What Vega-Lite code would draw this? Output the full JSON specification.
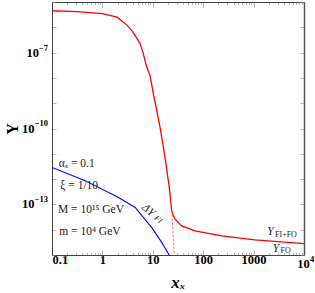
{
  "$schema": "https://vega.github.io/schema/vega-lite/v6.json",
  "width": 252,
  "height": 253,
  "autosize": {"type": "none"},
  "padding": {"left": 52, "top": 2, "right": 11, "bottom": 38},
  "config": {"view": {"stroke": null}, "font": "Liberation Serif"},
  "datasets": {
    "red": [
      {"x": 0.1, "y": 4.52e-6}, {"x": 0.316, "y": 4.2e-6}, {"x": 1, "y": 3.47e-6},
      {"x": 1.95, "y": 2.51e-6}, {"x": 3.08, "y": 1.22e-6}, {"x": 3.98, "y": 6.8e-7},
      {"x": 4.86, "y": 3.55e-7}, {"x": 5.57, "y": 2.36e-7}, {"x": 6.4, "y": 1.0e-7},
      {"x": 7.57, "y": 2.71e-8}, {"x": 8.79, "y": 1.26e-8}, {"x": 10.23, "y": 2.45e-9},
      {"x": 13.9, "y": 1.13e-10}, {"x": 17.46, "y": 7.26e-12}, {"x": 21.23, "y": 4.69e-13},
      {"x": 23.71, "y": 5.57e-14}, {"x": 25.1, "y": 3.9e-14}, {"x": 27.54, "y": 2.69e-14},
      {"x": 37.4, "y": 1.42e-14}, {"x": 68.7, "y": 8.95e-15}, {"x": 232.8, "y": 5.68e-15},
      {"x": 1067, "y": 3.94e-15}, {"x": 10000, "y": 2.81e-15}
    ],
    "dashed": [
      {"x": 23.71, "y": 5.57e-14}, {"x": 26.9, "y": 7.9e-16}
    ],
    "blue": [
      {"x": 0.1, "y": 2.88e-12}, {"x": 0.457, "y": 8.7e-13}, {"x": 2.09, "y": 1.86e-13},
      {"x": 4.47, "y": 7.59e-14}, {"x": 9.55, "y": 1.2e-14}, {"x": 15.14, "y": 3.09e-15},
      {"x": 20.65, "y": 1.07e-15}, {"x": 21.88, "y": 7.9e-16}
    ],
    "params": [
      {"x": 0.136, "y": 3.97e-12, "text": "αₓ = 0.1"},
      {"x": 0.146, "y": 5.47e-13, "text": "ξ = 1/10"},
      {"x": 0.1316, "y": 5.94e-14, "text": "M = 10¹⁵ GeV"},
      {"x": 0.1396, "y": 8.18e-15, "text": "m = 10⁴ GeV"}
    ],
    "ylabels": [
      {"x": 2163, "y": 8.18e-15, "text": "Y"},
      {"x": 2780, "y": 1.73e-15, "text": "Y"}
    ],
    "subs": [
      {"x": 2661, "y": 6.22e-15, "text": "FI+FO"},
      {"x": 3420, "y": 1.44e-15, "text": "FO"}
    ],
    "delta": [
      {"x": 8.04, "y": 5.83e-14, "text": "ΔY", "size": 11.5},
      {"x": 12.68, "y": 2.45e-14, "text": "FI", "size": 8}
    ],
    "tickbase": [
      {"x": 0.0552, "y": 1e-7, "text": "10"},
      {"x": 0.045, "y": 1e-10, "text": "10"},
      {"x": 0.045, "y": 1e-13, "text": "10"}
    ],
    "tickexp": [
      {"x": 0.0833, "y": 1.58e-7, "text": "−7"},
      {"x": 0.0833, "y": 1.58e-10, "text": "−10"},
      {"x": 0.0833, "y": 1.58e-13, "text": "−13"}
    ],
    "xlast": [
      {"x": 9817, "y": 4.52e-16, "text": "10", "size": 12.5},
      {"x": 14420, "y": 6.93e-16, "text": "4", "size": 8.5}
    ]
  },
  "layer": [
    {
      "data": {"name": "red"},
      "mark": {"type": "line", "color": "#ff0000", "strokeWidth": 1.3, "clip": true},
      "encoding": {
        "x": {
          "field": "x", "type": "quantitative",
          "scale": {"type": "log", "domain": [0.1, 10000]},
          "axis": {
            "orient": "bottom",
            "values": [0.1, 0.2, 0.3, 0.4, 0.5, 0.6, 0.7, 0.8, 0.9, 1, 2, 3, 4, 5, 6, 7, 8, 9, 10, 20, 30, 40, 50, 60, 70, 80, 90, 100, 200, 300, 400, 500, 600, 700, 800, 900, 1000, 2000, 3000, 4000, 5000, 6000, 7000, 8000, 9000, 10000],
            "labelExpr": "datum.value == 0.1 ? '0.1' : datum.value == 1 ? '1' : datum.value == 10 ? '10' : datum.value == 100 ? '100' : datum.value == 1000 ? '1000' : ''",
            "labelOverlap": false,
            "labelFont": "Liberation Serif", "labelFontWeight": "bold", "labelFontSize": 12.5, "labelColor": "#000",
            "labelPadding": 3,
            "tickSize": {"condition": {"test": "abs(log(datum.value)/LN10 - round(log(datum.value)/LN10)) < 0.01", "value": -5}, "value": -2.5},
            "tickColor": "#888", "tickWidth": 0.6,
            "domainColor": "#444", "domainWidth": 1,
            "grid": false,
            "title": "xₓ",
            "titleFont": "Liberation Serif", "titleFontStyle": "italic", "titleFontWeight": "bold", "titleFontSize": 17, "titleColor": "#000",
            "titlePadding": 6
          }
        },
        "y": {
          "field": "y", "type": "quantitative",
          "scale": {"type": "log", "domain": [1e-15, 1e-5]},
          "axis": {
            "orient": "left",
            "values": [1e-15, 1e-14, 1e-13, 1e-12, 1e-11, 1e-10, 1e-9, 1e-8, 1e-7, 1e-6, 1e-5],
            "labels": false,
            "tickSize": -4,
            "tickColor": "#888", "tickWidth": 0.6,
            "domainColor": "#444", "domainWidth": 1,
            "grid": false,
            "title": "Y",
            "titleFont": "Liberation Serif", "titleFontWeight": "bold", "titleFontSize": 16, "titleColor": "#000",
            "titlePadding": 31
          }
        }
      }
    },
    {
      "data": {"name": "blue"},
      "mark": {"type": "line", "color": "#0000ff", "strokeWidth": 1.1, "clip": true},
      "encoding": {
        "x": {
          "field": "x", "type": "quantitative",
          "scale": {"type": "log", "domain": [0.1, 10000]},
          "axis": {
            "orient": "top",
            "values": [0.1, 0.2, 0.3, 0.4, 0.5, 0.6, 0.7, 0.8, 0.9, 1, 2, 3, 4, 5, 6, 7, 8, 9, 10, 20, 30, 40, 50, 60, 70, 80, 90, 100, 200, 300, 400, 500, 600, 700, 800, 900, 1000, 2000, 3000, 4000, 5000, 6000, 7000, 8000, 9000, 10000],
            "labels": false,
            "tickSize": {"condition": {"test": "abs(log(datum.value)/LN10 - round(log(datum.value)/LN10)) < 0.01", "value": -5}, "value": -2.5},
            "tickColor": "#888", "tickWidth": 0.6,
            "domainColor": "#444", "domainWidth": 1,
            "grid": false, "title": null
          }
        },
        "y": {
          "field": "y", "type": "quantitative",
          "scale": {"type": "log", "domain": [1e-15, 1e-5]},
          "axis": {
            "orient": "right",
            "values": [1e-15, 1e-14, 1e-13, 1e-12, 1e-11, 1e-10, 1e-9, 1e-8, 1e-7, 1e-6, 1e-5],
            "labels": false,
            "tickSize": -4,
            "tickColor": "#888", "tickWidth": 0.6,
            "domainColor": "#555", "domainWidth": 1.5,
            "grid": false, "title": null
          }
        }
      }
    },
    {
      "data": {"name": "dashed"},
      "mark": {"type": "line", "color": "#ff5050", "strokeWidth": 0.8, "strokeDash": [2.5, 1.5], "clip": true},
      "encoding": {
        "x": {"field": "x", "type": "quantitative", "scale": {"type": "log", "domain": [0.1, 10000]}, "axis": null},
        "y": {"field": "y", "type": "quantitative", "scale": {"type": "log", "domain": [1e-15, 1e-5]}, "axis": null}
      }
    },
    {
      "data": {"name": "params"},
      "mark": {"type": "text", "font": "Liberation Serif", "fontSize": 11.5, "align": "left", "baseline": "middle", "color": "#1a1a1a", "fill": "#1a1a1a"},
      "encoding": {
        "x": {"field": "x", "type": "quantitative", "scale": {"type": "log", "domain": [0.1, 10000]}, "axis": null},
        "y": {"field": "y", "type": "quantitative", "scale": {"type": "log", "domain": [1e-15, 1e-5]}, "axis": null},
        "text": {"field": "text"}
      }
    },
    {
      "data": {"name": "ylabels"},
      "mark": {"type": "text", "font": "Liberation Serif", "fontSize": 11.5, "fontStyle": "italic", "align": "center", "baseline": "middle", "color": "#1a1a1a", "fill": "#1a1a1a"},
      "encoding": {
        "x": {"field": "x", "type": "quantitative", "scale": {"type": "log", "domain": [0.1, 10000]}, "axis": null},
        "y": {"field": "y", "type": "quantitative", "scale": {"type": "log", "domain": [1e-15, 1e-5]}, "axis": null},
        "text": {"field": "text"}
      }
    },
    {
      "data": {"name": "subs"},
      "mark": {"type": "text", "font": "Liberation Serif", "fontSize": 8, "align": "left", "baseline": "middle", "color": "#1a1a1a", "fill": "#1a1a1a"},
      "encoding": {
        "x": {"field": "x", "type": "quantitative", "scale": {"type": "log", "domain": [0.1, 10000]}, "axis": null},
        "y": {"field": "y", "type": "quantitative", "scale": {"type": "log", "domain": [1e-15, 1e-5]}, "axis": null},
        "text": {"field": "text"}
      }
    },
    {
      "data": {"name": "delta"},
      "mark": {"type": "text", "font": "Liberation Serif", "fontStyle": "italic", "angle": 42, "align": "center", "baseline": "middle", "color": "#1a1a1a", "fill": "#1a1a1a"},
      "encoding": {
        "x": {"field": "x", "type": "quantitative", "scale": {"type": "log", "domain": [0.1, 10000]}, "axis": null},
        "y": {"field": "y", "type": "quantitative", "scale": {"type": "log", "domain": [1e-15, 1e-5]}, "axis": null},
        "text": {"field": "text"},
        "size": {"field": "size", "type": "quantitative", "scale": null}
      }
    },
    {
      "data": {"name": "tickbase"},
      "mark": {"type": "text", "font": "Liberation Serif", "fontWeight": "bold", "fontSize": 12.5, "align": "right", "baseline": "middle", "color": "#000", "fill": "#000"},
      "encoding": {
        "x": {"field": "x", "type": "quantitative", "scale": {"type": "log", "domain": [0.1, 10000]}, "axis": null},
        "y": {"field": "y", "type": "quantitative", "scale": {"type": "log", "domain": [1e-15, 1e-5]}, "axis": null},
        "text": {"field": "text"}
      }
    },
    {
      "data": {"name": "tickexp"},
      "mark": {"type": "text", "font": "Liberation Serif", "fontWeight": "bold", "fontSize": 8.5, "align": "right", "baseline": "middle", "color": "#000", "fill": "#000"},
      "encoding": {
        "x": {"field": "x", "type": "quantitative", "scale": {"type": "log", "domain": [0.1, 10000]}, "axis": null},
        "y": {"field": "y", "type": "quantitative", "scale": {"type": "log", "domain": [1e-15, 1e-5]}, "axis": null},
        "text": {"field": "text"}
      }
    },
    {
      "data": {"name": "xlast"},
      "mark": {"type": "text", "font": "Liberation Serif", "fontWeight": "bold", "align": "center", "baseline": "middle", "color": "#000", "fill": "#000"},
      "encoding": {
        "x": {"field": "x", "type": "quantitative", "scale": {"type": "log", "domain": [0.1, 10000]}, "axis": null},
        "y": {"field": "y", "type": "quantitative", "scale": {"type": "log", "domain": [1e-15, 1e-5]}, "axis": null},
        "text": {"field": "text"},
        "size": {"field": "size", "type": "quantitative", "scale": null}
      }
    }
  ],
  "resolve": {"axis": {"x": "independent", "y": "independent"}}
}
